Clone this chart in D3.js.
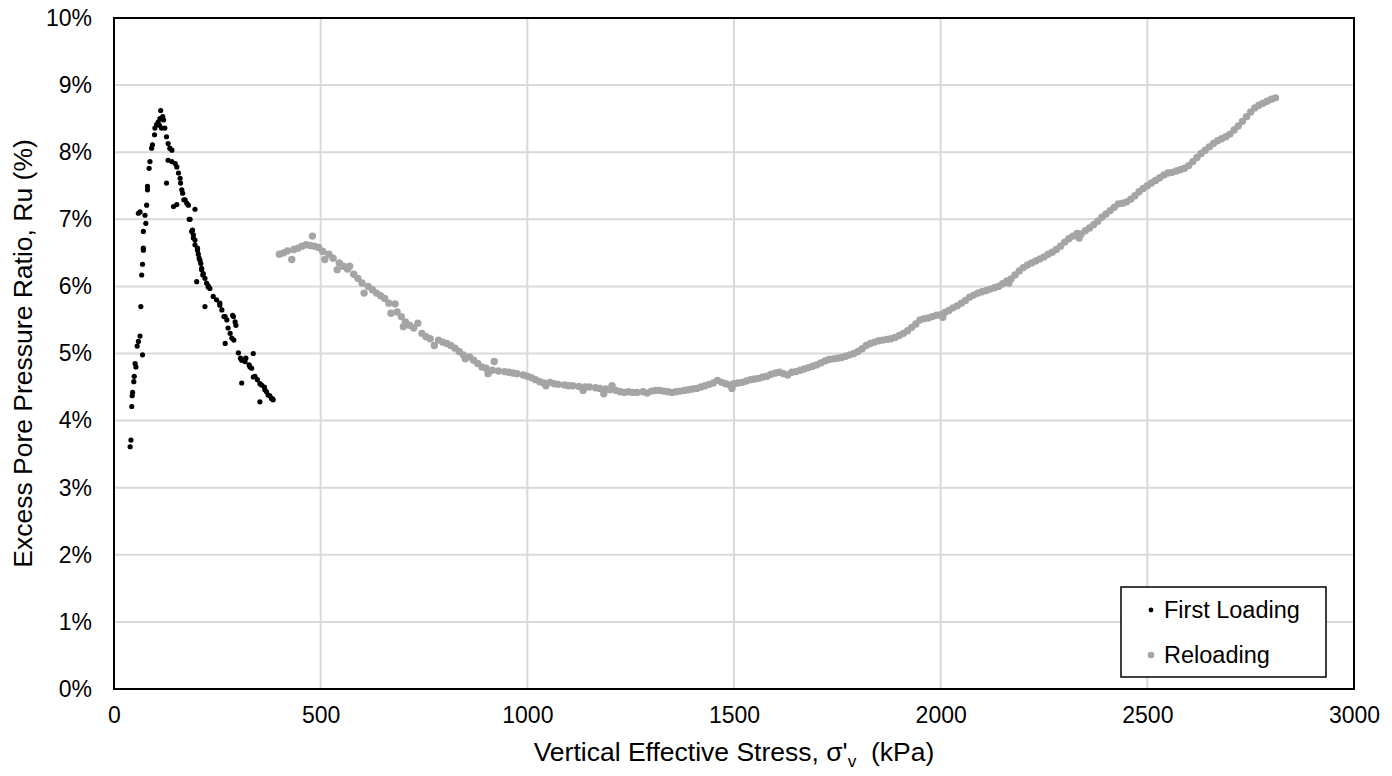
<!DOCTYPE html>
<html>
<head>
<meta charset="utf-8">
<script src="https://cdn.jsdelivr.net/npm/d3@7"></script>
<style>
  html, body { margin: 0; padding: 0; background: #fff; }
  svg { display: block; font-family: "Liberation Sans", Arial, sans-serif; }
</style>
</head>
<body>
<svg id="chart" width="1392" height="776"></svg>
<script>
// ---------- DATA ----------
const xTicks = [0, 500, 1000, 1500, 2000, 2500, 3000];
const yTicks = [0, 1, 2, 3, 4, 5, 6, 7, 8, 9, 10];
const seriesNames = ["First Loading", "Reloading"];

// First Loading: [stress kPa, Ru %]
const firstLoading = [
  [39,3.61],[41,3.71],[43,4.21],[44,4.37],[45,4.42],[48,4.58],[49,4.66],[51,4.85],[53,4.80],
  [56,5.11],[59,5.18],[63,5.26],[69,4.98],[65,5.70],[67,6.17],[69,6.33],[71,6.54],[71,6.57],
  [71,6.82],[77,6.94],[75,7.06],[59,7.09],[63,7.11],[79,7.21],[81,7.44],[81,7.49],[85,7.76],
  [87,7.86],[91,8.06],[93,8.11],[98,8.26],[99,8.36],[103,8.41],[107,8.45],[111,8.50],[113,8.62],
  [118,8.53],[115,8.36],[123,8.36],[120,8.48],[110,8.40],
  [127,8.23],[131,8.13],[135,8.06],[140,8.03],[131,7.88],[140,7.86],[148,7.83],[152,7.78],
  [156,7.69],[160,7.61],[161,7.54],[127,7.54],[164,7.44],[166,7.39],[169,7.29],[172,7.29],
  [176,7.24],[180,7.21],[152,7.22],[144,7.19],[196,7.15],[182,7.00],[184,7.00],[188,6.82],
  [190,6.84],[192,6.77],[192,6.72],[196,6.69],[196,6.62],[202,6.57],[202,6.54],[204,6.48],
  [206,6.42],[208,6.39],[210,6.34],[212,6.27],[212,6.25],[215,6.17],[216,6.19],[220,6.12],
  [200,6.07],[224,6.05],[228,6.01],[228,5.99],[232,5.97],[240,5.85],[248,5.80],[256,5.75],
  [256,5.72],[261,5.65],[220,5.70],[266,5.55],[269,5.55],[273,5.50],[287,5.57],[289,5.55],
  [293,5.47],[295,5.42],[276,5.38],[281,5.30],[285,5.23],[269,5.15],[290,5.20],[301,5.01],
  [306,4.93],[309,4.90],[313,4.90],[317,4.88],[319,4.93],[337,5.00],[327,4.83],[329,4.80],
  [333,4.78],[309,4.56],[337,4.65],[341,4.66],[347,4.61],[353,4.55],[357,4.53],[364,4.50],
  [365,4.46],[369,4.43],[373,4.38],[377,4.37],[381,4.33],[384,4.32],[385,4.31],[353,4.28]
];

// Reloading: [stress kPa, Ru %]
const reloading = [
  [400,6.48],[410,6.50],[420,6.53],[430,6.40],[435,6.55],[445,6.57],[455,6.60],[465,6.62],
  [475,6.61],[480,6.75],[485,6.60],[495,6.58],[505,6.52],[510,6.40],[520,6.48],[530,6.42],
  [540,6.25],[545,6.35],[555,6.30],[565,6.26],[570,6.30],[580,6.18],[590,6.12],[600,6.05],
  [605,5.90],[615,6.00],[625,5.95],[635,5.90],[645,5.86],[655,5.82],[665,5.75],[670,5.60],
  [680,5.74],[685,5.62],[695,5.55],[700,5.40],[705,5.47],[715,5.42],[725,5.38],[735,5.45],
  [745,5.30],[755,5.25],[765,5.22],[775,5.12],[785,5.20],[795,5.17],[805,5.15],[815,5.12],
  [825,5.08],[835,5.03],[845,4.98],[850,4.92],[860,4.95],[870,4.90],[880,4.85],[890,4.80],
  [900,4.78],[905,4.70],[915,4.75],[920,4.88],[930,4.74],[945,4.73],[955,4.72],[965,4.71],
  [975,4.70],[990,4.68],[1000,4.66],[1010,4.64],[1020,4.61],[1030,4.58],[1040,4.56],[1045,4.52],
  [1055,4.57],[1065,4.55],[1075,4.54],[1090,4.53],[1100,4.52],[1110,4.52],[1125,4.51],[1135,4.45],
  [1140,4.50],[1150,4.50],[1165,4.49],[1175,4.48],[1185,4.40],[1190,4.47],[1200,4.46],[1205,4.52],
  [1215,4.45],[1225,4.43],[1235,4.42],[1245,4.43],[1255,4.42],[1265,4.42],[1280,4.43],[1290,4.41],
  [1300,4.44],[1310,4.45],[1320,4.45],[1330,4.44],[1340,4.43],[1350,4.42],[1360,4.43],[1370,4.44],
  [1380,4.45],[1390,4.46],[1400,4.47],[1410,4.48],[1420,4.50],[1430,4.52],[1440,4.54],[1450,4.56],
  [1460,4.60],[1470,4.57],[1480,4.55],[1490,4.53],[1495,4.48],[1500,4.55],[1510,4.56],[1520,4.57],
  [1530,4.59],[1540,4.61],[1550,4.62],[1560,4.63],[1570,4.65],[1580,4.66],[1590,4.69],[1600,4.71],
  [1610,4.72],[1620,4.70],[1630,4.68],[1640,4.72],[1650,4.73],[1660,4.75],[1670,4.77],[1680,4.79],
  [1690,4.81],[1700,4.83],[1710,4.86],[1720,4.89],[1730,4.91],[1740,4.92],[1750,4.93],[1760,4.94],
  [1770,4.96],[1780,4.98],[1790,5.00],[1800,5.03],[1810,5.07],[1820,5.12],[1830,5.15],[1840,5.17],
  [1850,5.19],[1860,5.20],[1870,5.21],[1880,5.22],[1890,5.24],[1900,5.27],[1910,5.30],[1920,5.34],
  [1930,5.39],[1940,5.44],[1950,5.50],[1960,5.52],[1970,5.53],[1980,5.55],[1990,5.57],[2000,5.58],
  [2005,5.54],[2010,5.61],[2020,5.64],[2030,5.68],[2040,5.71],[2050,5.75],[2060,5.79],[2070,5.84],
  [2080,5.87],[2090,5.90],[2100,5.92],[2110,5.94],[2120,5.96],[2130,5.98],[2140,6.00],[2150,6.04],
  [2160,6.08],[2165,6.05],[2170,6.11],[2180,6.17],[2190,6.23],[2200,6.28],[2210,6.32],[2220,6.35],
  [2230,6.38],[2240,6.41],[2250,6.44],[2260,6.48],[2270,6.51],[2280,6.55],[2290,6.60],[2300,6.66],
  [2310,6.71],[2320,6.75],[2330,6.79],[2335,6.72],[2340,6.78],[2350,6.83],[2360,6.87],[2370,6.92],
  [2380,6.97],[2390,7.03],[2400,7.08],[2410,7.13],[2420,7.18],[2430,7.23],[2440,7.24],[2450,7.26],
  [2460,7.30],[2470,7.35],[2480,7.41],[2490,7.46],[2500,7.50],[2510,7.54],[2520,7.58],[2530,7.62],
  [2540,7.66],[2550,7.69],[2560,7.70],[2570,7.72],[2580,7.74],[2590,7.76],[2600,7.80],[2610,7.86],
  [2620,7.92],[2630,7.98],[2640,8.03],[2650,8.08],[2660,8.13],[2670,8.17],[2680,8.20],[2690,8.23],
  [2700,8.27],[2710,8.33],[2720,8.39],[2730,8.46],[2740,8.53],[2750,8.60],[2760,8.66],[2770,8.70],
  [2780,8.73],[2790,8.76],[2800,8.79],[2810,8.81]
];

// ---------- LAYOUT ----------
const W = 1392, H = 776;
const margin = { left: 114, top: 18, right: 38, bottom: 87 };
const pw = W - margin.left - margin.right;
const ph = H - margin.top - margin.bottom;
const FONT = 23;
const TITLE_FONT = 26.5;

const svg = d3.select("#chart");
const g = svg.append("g").attr("transform", `translate(${margin.left},${margin.top})`);

const x = d3.scaleLinear().domain([0, 3000]).range([0, pw]);
const y = d3.scaleLinear().domain([0, 10]).range([ph, 0]);

// gridlines
g.append("g").selectAll("line.vg").data(xTicks.slice(1, -1)).join("line")
  .attr("x1", d => x(d)).attr("x2", d => x(d)).attr("y1", 0).attr("y2", ph)
  .attr("stroke", "#d9d9d9").attr("stroke-width", 2);
g.append("g").selectAll("line.hg").data(yTicks.slice(1, -1)).join("line")
  .attr("x1", 0).attr("x2", pw).attr("y1", d => y(d)).attr("y2", d => y(d))
  .attr("stroke", "#d9d9d9").attr("stroke-width", 2);

// axes (labels only)
const xAxis = d3.axisBottom(x).tickValues(xTicks).tickSize(0).tickPadding(18).tickFormat(d3.format("d"));
const yAxis = d3.axisLeft(y).tickValues(yTicks).tickSize(0).tickPadding(22).tickFormat(d => d + "%");
const gx = g.append("g").attr("transform", `translate(0,${ph})`).call(xAxis);
const gy = g.append("g").call(yAxis);
[gx, gy].forEach(a => {
  a.select(".domain").remove();
  a.selectAll("text").attr("font-size", FONT).attr("fill", "#000")
    .attr("font-family", "'Liberation Sans', Arial, sans-serif");
});

// data points
g.append("g").selectAll("circle").data(reloading).join("circle")
  .attr("cx", d => x(d[0])).attr("cy", d => y(d[1])).attr("r", 3.7)
  .attr("fill", "#a5a5a5");
g.append("g").selectAll("circle").data(firstLoading).join("circle")
  .attr("cx", d => x(d[0])).attr("cy", d => y(d[1])).attr("r", 2.6)
  .attr("fill", "#000");

// plot frame
g.append("rect").attr("x", 0).attr("y", 0).attr("width", pw).attr("height", ph)
  .attr("fill", "none").attr("stroke", "#000").attr("stroke-width", 2);

// legend
const lg = svg.append("g").attr("transform", "translate(1121,587)");
lg.append("rect").attr("width", 205).attr("height", 90)
  .attr("fill", "#fff").attr("stroke", "#000").attr("stroke-width", 1.5);
lg.append("circle").attr("cx", 30).attr("cy", 23).attr("r", 2.4).attr("fill", "#000");
lg.append("circle").attr("cx", 30).attr("cy", 68).attr("r", 3.3).attr("fill", "#a5a5a5");
lg.append("text").attr("x", 43).attr("y", 31).attr("font-size", 23.5).text(seriesNames[0]);
lg.append("text").attr("x", 43).attr("y", 76).attr("font-size", 23.5).text(seriesNames[1]);

// axis titles
const xt = svg.append("text").attr("x", margin.left + pw / 2).attr("y", 761)
  .attr("text-anchor", "middle").attr("font-size", TITLE_FONT);
xt.append("tspan").text("Vertical Effective Stress, σ'");
xt.append("tspan").attr("font-size", TITLE_FONT * 0.65).attr("dy", 6).text("v");
xt.append("tspan").attr("dy", -6).text("\u00a0 (kPa)");

svg.append("text")
  .attr("transform", `translate(32,${margin.top + ph / 2}) rotate(-90)`)
  .attr("text-anchor", "middle").attr("font-size", TITLE_FONT)
  .text("Excess Pore Pressure Ratio, Ru (%)");
</script>
</body>
</html>
